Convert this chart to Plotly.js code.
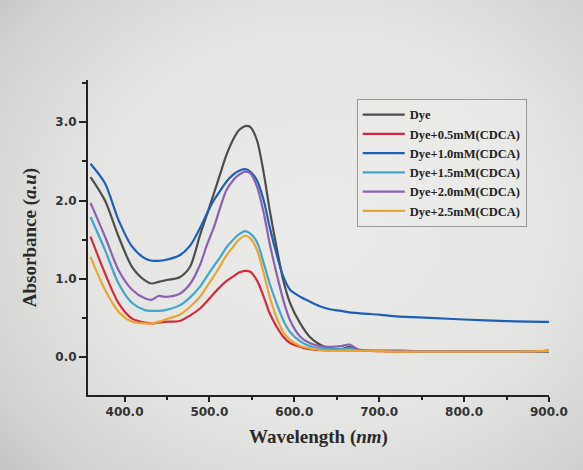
<!DOCTYPE html>
<html>
<head>
<meta charset="utf-8">
<script src="https://cdn.plot.ly/plotly-3.0.1.min.js"></script>
<style>
  html, body { margin: 0; padding: 0; }
  body {
    width: 583px; height: 470px; overflow: hidden;
    background: radial-gradient(ellipse 75% 80% at 55% 48%, #ebebe9 0%, #e4e4e2 55%, #d2d2d0 85%, #c2c2c0 100%);
  }
  #chart { width: 583px; height: 470px; }
</style>
</head>
<body>
<div id="chart"></div>
<script>
// UV-Vis absorption spectra of the dye with increasing CDCA concentration
const wavelength = [360, 377, 393, 409, 424, 432, 440, 448, 465, 477, 489, 497, 505, 513, 520, 528, 535, 542, 548, 556, 564, 571, 579, 587, 595, 607, 618, 630, 642, 655, 665, 675, 690, 720, 760, 800, 850, 900];

const dye      = [2.30, 2.00, 1.54, 1.15, 0.98, 0.94, 0.96, 0.98, 1.02, 1.15, 1.56, 1.82, 2.08, 2.35, 2.58, 2.78, 2.90, 2.95, 2.94, 2.77, 2.35, 1.88, 1.41, 0.98, 0.69, 0.43, 0.26, 0.16, 0.11, 0.10, 0.13, 0.09, 0.08, 0.08, 0.07, 0.07, 0.07, 0.07];
const cdca05   = [1.54, 1.07, 0.69, 0.49, 0.44, 0.43, 0.44, 0.45, 0.46, 0.53, 0.62, 0.71, 0.81, 0.90, 0.97, 1.03, 1.08, 1.10, 1.09, 0.98, 0.77, 0.56, 0.39, 0.26, 0.18, 0.13, 0.10, 0.09, 0.08, 0.08, 0.08, 0.08, 0.08, 0.07, 0.07, 0.07, 0.07, 0.08];
const cdca10   = [2.47, 2.22, 1.75, 1.41, 1.26, 1.23, 1.23, 1.24, 1.30, 1.42, 1.65, 1.83, 2.00, 2.13, 2.24, 2.33, 2.38, 2.40, 2.37, 2.26, 2.00, 1.66, 1.32, 1.03, 0.86, 0.77, 0.71, 0.65, 0.61, 0.59, 0.57, 0.56, 0.55, 0.52, 0.50, 0.48, 0.46, 0.45];
const cdca15   = [1.79, 1.37, 0.94, 0.69, 0.60, 0.59, 0.59, 0.60, 0.66, 0.76, 0.90, 1.03, 1.16, 1.28, 1.40, 1.50, 1.57, 1.61, 1.58, 1.47, 1.20, 0.94, 0.69, 0.47, 0.32, 0.20, 0.14, 0.11, 0.10, 0.10, 0.11, 0.09, 0.08, 0.08, 0.07, 0.07, 0.07, 0.08];
const cdca20   = [1.97, 1.54, 1.11, 0.86, 0.75, 0.73, 0.78, 0.77, 0.81, 0.93, 1.18, 1.43, 1.65, 1.92, 2.13, 2.26, 2.33, 2.37, 2.35, 2.18, 1.84, 1.45, 1.07, 0.73, 0.47, 0.26, 0.18, 0.14, 0.13, 0.14, 0.16, 0.10, 0.08, 0.08, 0.07, 0.07, 0.07, 0.08];
const cdca25   = [1.28, 0.86, 0.58, 0.45, 0.43, 0.43, 0.45, 0.48, 0.54, 0.64, 0.77, 0.90, 1.03, 1.17, 1.30, 1.41, 1.50, 1.55, 1.52, 1.37, 1.07, 0.77, 0.51, 0.32, 0.22, 0.14, 0.11, 0.09, 0.08, 0.08, 0.08, 0.08, 0.08, 0.07, 0.07, 0.07, 0.07, 0.08];

const seriesNames = ['Dye', 'Dye+0.5mM(CDCA)', 'Dye+1.0mM(CDCA)', 'Dye+1.5mM(CDCA)', 'Dye+2.0mM(CDCA)', 'Dye+2.5mM(CDCA)'];
const seriesValues = [dye, cdca05, cdca10, cdca15, cdca20, cdca25];
const seriesColors = ['#4d4d4a', '#d42a3e', '#1e5fb6', '#40a6cc', '#8b60b2', '#e9a533'];

const traces = seriesNames.map((name, i) => ({
  type: 'scatter',
  mode: 'lines',
  name: name,
  x: wavelength,
  y: seriesValues[i],
  line: { color: seriesColors[i], width: 2.2, shape: 'spline', smoothing: 0.8 }
}));

const tickFont = { family: 'DejaVu Sans, Arial, sans-serif', size: 12, color: '#333333', weight: 'bold' };
const titleFont = { family: 'Liberation Serif, Times New Roman, serif', size: 19, color: '#2a2a2a', weight: 'bold' };

const layout = {
  width: 583,
  height: 470,
  margin: { l: 88, r: 34, t: 80, b: 75 },
  paper_bgcolor: 'rgba(0,0,0,0)',
  plot_bgcolor: 'rgba(0,0,0,0)',
  showlegend: true,
  legend: {
    x: 0.583, y: 0.94, xanchor: 'left', yanchor: 'top',
    bgcolor: 'rgba(240,240,238,0.35)',
    bordercolor: '#9a9a98', borderwidth: 1,
    itemwidth: 42,
    font: { family: 'Liberation Serif, Times New Roman, serif', size: 12.5, color: '#222222', weight: 'bold' },
    tracegroupgap: 0
  },
  xaxis: {
    range: [357, 900],
    tickvals: [400, 500, 600, 700, 800, 900],
    tickformat: '.1f',
    ticks: 'outside', ticklen: 5, tickwidth: 2, tickcolor: '#222',
    minor: { dtick: 50, tick0: 350, ticks: 'outside', ticklen: 3, tickwidth: 2, tickcolor: '#222', showgrid: false },
    showline: true, linecolor: '#222', linewidth: 2,
    showgrid: false, zeroline: false,
    tickfont: tickFont,
    title: { text: 'Wavelength (<i>nm</i>)', font: titleFont, standoff: 11 }
  },
  yaxis: {
    range: [-0.485, 3.54],
    tickvals: [0, 1, 2, 3],
    tickformat: '.1f',
    ticks: 'outside', ticklen: 7, tickwidth: 2, tickcolor: '#222',
    minor: { dtick: 0.5, tick0: 0, ticks: 'outside', ticklen: 4, tickwidth: 2, tickcolor: '#222', showgrid: false },
    showline: true, linecolor: '#222', linewidth: 2,
    showgrid: false, zeroline: false,
    tickfont: tickFont,
    title: { text: 'Absorbance (<i>a.u</i>)', font: titleFont, standoff: 14 }
  }
};

Plotly.newPlot('chart', traces, layout, { displayModeBar: false, staticPlot: true });
</script>
</body>
</html>
